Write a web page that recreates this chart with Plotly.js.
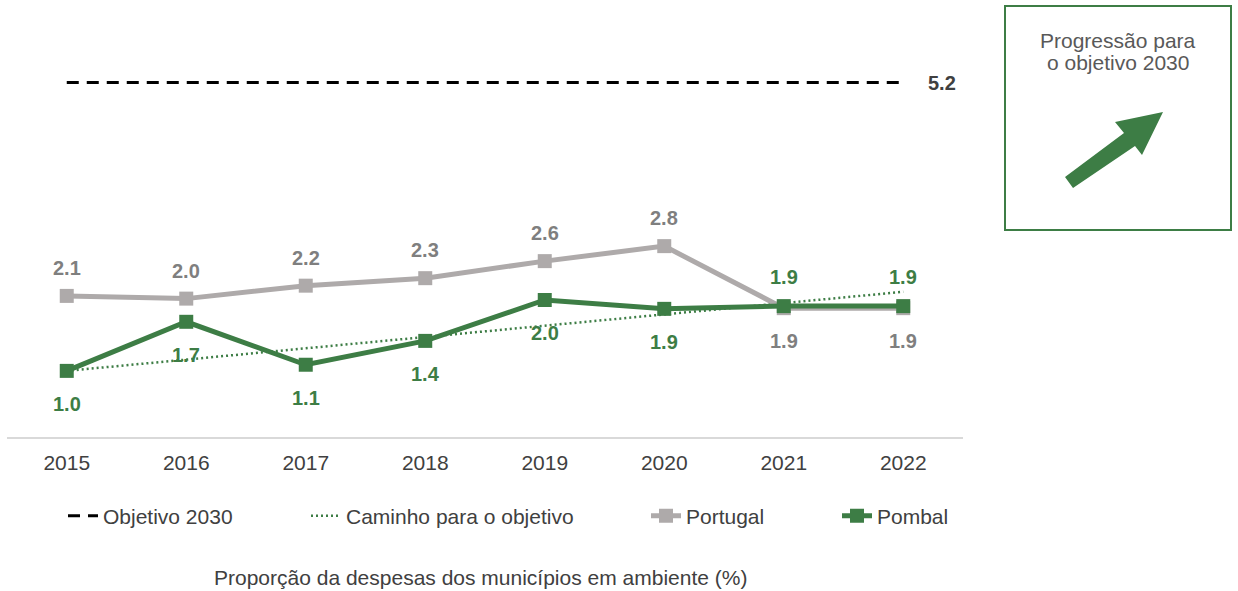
<!DOCTYPE html>
<html>
<head>
<meta charset="utf-8">
<script src="https://cdn.plot.ly/plotly-3.0.1.min.js"></script>
<style>html,body{margin:0;padding:0;background:#fff;}#chart{width:1238px;height:591px;}</style>
</head>
<body>
<div id="chart"></div>
<script>
// ---- data ----
const years = ["2015","2016","2017","2018","2019","2020","2021","2022"];
const portugal = [2.07, 2.03, 2.22, 2.33, 2.58, 2.80, 1.89, 1.89];
const pombal = [0.97, 1.69, 1.06, 1.41, 2.01, 1.88, 1.92, 1.92];
const target2030 = 5.2;
const pathYears = ["2015", "2022"];
const pathValues = [0.97, 2.13];
const labelsPortugal = ["2.1","2.0","2.2","2.3","2.6","2.8","1.9","1.9"];
const labelsPombal = ["1.0","1.7","1.1","1.4","2.0","1.9","1.9","1.9"];
const seriesNames = ["Objetivo 2030", "Caminho para o objetivo", "Portugal", "Pombal"];
const boxTitleLines = ["Progressão para", "o objetivo 2030"];
const chartCaption = "Proporção da despesas dos municípios em ambiente (%)";

// ---- layout helpers (pixel -> paper) ----
const L = 7, R = 963, T = 28, B = 437;
const px = x => (x - L) / (R - L);
const py = y => (B - y) / (B - T);

const green = "#3d7d45";
const grey = "#aeaaaa";
const greyText = "#7f7f7f";
const dark = "#404040";
const FONT = "Liberation Sans, Arial, sans-serif";

const traces = [
  {x: years, y: years.map(() => target2030), name: seriesNames[0], mode: "lines", legend: "legend",
   line: {color: "#000000", width: 3, dash: "12px,8px"}, hoverinfo: "skip"},
  {x: pathYears, y: pathValues, name: seriesNames[1], mode: "lines", legend: "legend2",
   line: {color: green, width: 2.5, dash: "2px,3px"}, hoverinfo: "skip"},
  {x: years, y: portugal, name: seriesNames[2], mode: "lines+markers", legend: "legend3",
   line: {color: grey, width: 5}, marker: {symbol: "square", size: 14, color: grey}},
  {x: years, y: pombal, name: seriesNames[3], mode: "lines+markers", legend: "legend4",
   line: {color: green, width: 5}, marker: {symbol: "square", size: 14, color: green}}
];

const annotations = [];
years.forEach((yr, i) => {
  const below = i >= 6;
  annotations.push({x: i, y: portugal[i], text: labelsPortugal[i], showarrow: false,
    yshift: below ? -33 : 28, font: {family: FONT, size: 20, color: greyText, weight: "bold"}});
});
years.forEach((yr, i) => {
  const above = i >= 6;
  annotations.push({x: i, y: pombal[i], text: labelsPombal[i], showarrow: false,
    yshift: above ? 29 : -33, font: {family: FONT, size: 20, color: green, weight: "bold"}});
});
annotations.push({x: years.length - 1, y: target2030, text: target2030.toFixed(1), showarrow: false,
  xshift: 39, font: {family: FONT, size: 20, color: dark, weight: "bold"}});
boxTitleLines.forEach((t, k) => {
  annotations.push({xref: "paper", yref: "paper", x: px(1118), y: py(40 + 22 * k), text: t, showarrow: false,
    xanchor: "center", yanchor: "middle", font: {family: FONT, size: 21, color: "#595959"}});
});
annotations.push({xref: "paper", yref: "paper", x: px(480), y: py(577), text: chartCaption, showarrow: false,
  xanchor: "center", yanchor: "middle", font: {family: FONT, size: 21, color: dark}});

const arrowPts = [[1065,177],[1124,133],[1115,122],[1163,112],[1142,155],[1135,146],[1073,188]];
const arrowPath = "M " + arrowPts.map(p => px(p[0]) + "," + py(p[1])).join(" L ") + " Z";

function leg(textStartPx) {
  return {orientation: "h", x: px(textStartPx - 40), xanchor: "left", y: py(516), yanchor: "middle",
    font: {family: FONT, size: 21, color: dark}, bgcolor: "rgba(0,0,0,0)"};
}

const layout = {
  width: 1238, height: 591,
  margin: {l: L, r: 1238 - R, t: T, b: 591 - B},
  paper_bgcolor: "#ffffff", plot_bgcolor: "#ffffff",
  font: {family: FONT, color: dark, size: 21},
  showlegend: true,
  legend: leg(103), legend2: leg(346), legend3: leg(686), legend4: leg(877),
  xaxis: {type: "category", range: [-0.5, 7.5], showline: true, linecolor: "#d9d9d9", linewidth: 2,
    showgrid: false, zeroline: false, ticks: "", ticklabelstandoff: 6,
    tickfont: {family: FONT, size: 21, color: dark}, fixedrange: true},
  yaxis: {range: [0, 6], visible: false, showgrid: false, zeroline: false, fixedrange: true},
  annotations: annotations,
  shapes: [
    {type: "rect", xref: "paper", yref: "paper", x0: px(1005), x1: px(1231), y0: py(230), y1: py(6),
     line: {color: green, width: 2}, fillcolor: "rgba(0,0,0,0)"},
    {type: "path", xref: "paper", yref: "paper", path: arrowPath, fillcolor: green, line: {width: 0}}
  ]
};

Plotly.newPlot("chart", traces, layout, {displayModeBar: false, staticPlot: true});
</script>
</body>
</html>
